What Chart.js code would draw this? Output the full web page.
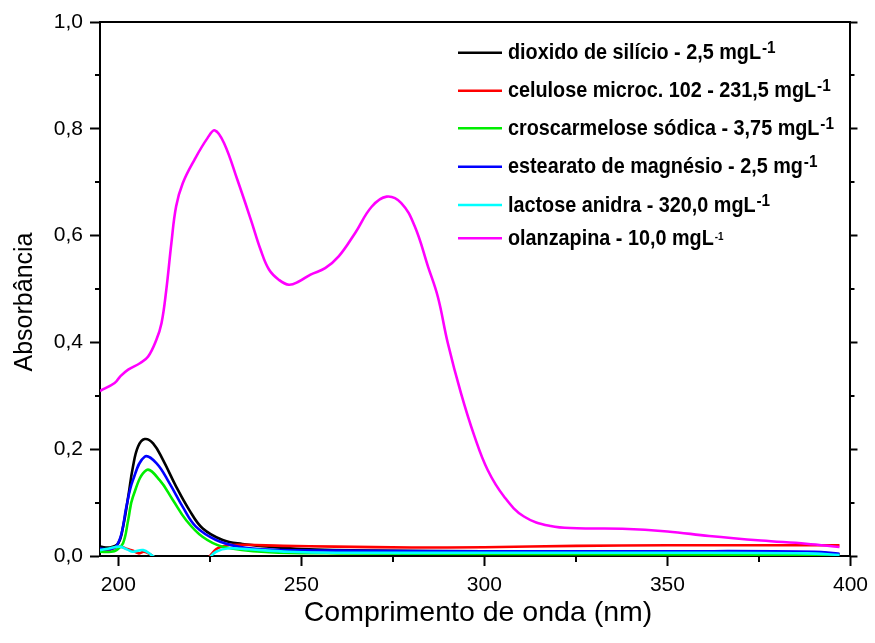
<!DOCTYPE html>
<html>
<head>
<meta charset="utf-8">
<script src="https://cdn.jsdelivr.net/npm/chart.js@4"></script>
<style>
  html, body { margin: 0; padding: 0; background: #fff; }
</style>
</head>
<body>
<canvas id="chart" width="875" height="643"></canvas>
<script>
// Spectra: wavelength (nm) and absorbance per sample
const wlSilica = [195, 197.7, 200, 201.3, 202.7, 204, 205.4, 207.2, 209.5, 212.2, 215.8, 219.4, 223, 228.5, 233.9, 241.2, 250, 270, 300, 350, 390, 397];
const absSilica = [0.0175, 0.016, 0.024, 0.055, 0.111, 0.167, 0.205, 0.219, 0.211, 0.18, 0.13, 0.086, 0.052, 0.030, 0.0225, 0.0175, 0.013, 0.01, 0.009, 0.008, 0.007, 0.003];

const wlCelulose = [195, 197.5, 200.4, 202.5, 204, 205.5, 207, 208.5, 210, 213, 220, 223, 224.5, 226.7, 228.5, 230.3, 235, 245, 259.2, 280, 300, 325, 350, 375, 397];
const absCelulose = [0.008, 0.011, 0.0175, 0.013, 0.010, 0.005, 0.008, 0.004, -0.004, -0.03, -0.03, -0.012, -0.004, 0.0125, 0.018, 0.0206, 0.021, 0.019, 0.0175, 0.016, 0.0165, 0.019, 0.020, 0.020, 0.020];

const wlCroscar = [195, 198, 199.5, 201.3, 202.7, 204, 207.7, 211.3, 214.9, 218.5, 223, 228.5, 241.2, 260, 300, 350, 390, 397];
const absCroscar = [0.008, 0.008, 0.011, 0.024, 0.0675, 0.111, 0.161, 0.142, 0.105, 0.0675, 0.036, 0.0175, 0.007, 0.005, 0.004, 0.003, 0.002, 0.001];

const wlEstearato = [195, 198, 199.5, 200.9, 202.2, 204, 207.2, 210.4, 214, 217.6, 221.2, 226.7, 233, 241.2, 260, 300, 350, 390, 397];
const absEstearato = [0.014, 0.013, 0.019, 0.0425, 0.092, 0.142, 0.186, 0.174, 0.136, 0.092, 0.055, 0.030, 0.0175, 0.012, 0.01, 0.009, 0.009, 0.008, 0.004];

const wlLactose = [195, 197.5, 200.4, 202.5, 204, 206.8, 209, 210.5, 213, 220, 223.5, 224.4, 226.7, 230.3, 235.7, 246.6, 259.2, 300, 350, 388, 397];
const absLactose = [0.011, 0.014, 0.0175, 0.012, 0.008, 0.011, 0.002, -0.006, -0.03, -0.03, -0.012, -0.007, 0.008, 0.0144, 0.0125, 0.008, 0.006, 0.006, 0.006, 0.005, 0.002];

const wlOlanz = [195, 199, 200.5, 202.7, 205.9, 208.1, 210.4, 211.8, 213.1, 214.5, 215.8, 217.6, 220.8, 224.4, 226.4, 228.9, 232.5, 236.2, 238.9, 241.2, 243.9, 246.6, 249.3, 252.5, 256.5, 260.2, 264.7, 269.2, 273.3, 277.3, 281, 284.6, 287.3, 290, 293.6, 297.3, 300.9, 305.4, 310.8, 318.1, 325.3, 337.7, 350, 361.4, 375.6, 387.9, 397];
const absOlanz = [0.309, 0.324, 0.336, 0.349, 0.361, 0.373, 0.405, 0.436, 0.498, 0.586, 0.655, 0.698, 0.742, 0.783, 0.797, 0.773, 0.705, 0.63, 0.573, 0.536, 0.517, 0.508, 0.514, 0.527, 0.539, 0.561, 0.605, 0.654, 0.673, 0.661, 0.617, 0.542, 0.485, 0.399, 0.305, 0.224, 0.161, 0.111, 0.074, 0.056, 0.052, 0.051, 0.046, 0.0375, 0.029, 0.023, 0.017];

// Legend labels (main text + superscript)
const legendText = [
  'dioxido de silício - 2,5 mgL',
  'celulose microc. 102 - 231,5 mgL',
  'croscarmelose sódica - 3,75 mgL',
  'estearato de magnésio - 2,5 mg',
  'lactose anidra - 320,0 mgL',
  'olanzapina - 10,0 mgL'
];
const legendSup = ['-1', '-1', '-1', '-1', '-1', '-1'];

// Axis ticks
const xMinorTicks = [225, 275, 325, 375];
const yMinorTicks = [0.1, 0.3, 0.5, 0.7, 0.9];

const colors = ['#000000', '#ff0000', '#00ee00', '#0000ff', '#00ffff', '#ff00ff'];
const series = [
  [wlSilica, absSilica],
  [wlCelulose, absCelulose],
  [wlCroscar, absCroscar],
  [wlEstearato, absEstearato],
  [wlLactose, absLactose],
  [wlOlanz, absOlanz]
];

const FONT = "'Liberation Sans', Arial, sans-serif";

function toPoints(wl, ab) {
  return wl.map((x, i) => ({ x, y: ab[i] }));
}

// small ticks between the labelled ones
const minorTicks = {
  id: 'minorTicks',
  afterDraw(chart) {
    const { ctx, chartArea: a, scales: { x, y } } = chart;
    ctx.save();
    ctx.strokeStyle = '#000';
    ctx.lineWidth = 2;
    ctx.beginPath();
    xMinorTicks.forEach(v => {
      const px = Math.round(x.getPixelForValue(v));
      ctx.moveTo(px, a.bottom);
      ctx.lineTo(px, a.bottom + 6);
    });
    yMinorTicks.forEach(v => {
      const py = Math.round(y.getPixelForValue(v));
      ctx.moveTo(a.left - 5, py);
      ctx.lineTo(a.left, py);
      ctx.moveTo(a.right, py);
      ctx.lineTo(a.right + 4, py);
    });
    ctx.stroke();
    ctx.restore();
  }
};

// axis titles
const axisTitles = {
  id: 'axisTitles',
  afterDraw(chart) {
    const { ctx } = chart;
    ctx.save();
    ctx.fillStyle = '#000';
    ctx.textAlign = 'center';
    ctx.textBaseline = 'middle';
    ctx.font = '28.5px ' + FONT;
    ctx.fillText('Comprimento de onda (nm)', 478, 613);
    ctx.translate(25, 302);
    ctx.rotate(-Math.PI / 2);
    ctx.font = '25px ' + FONT;
    ctx.fillText('Absorbância', 0, 0);
    ctx.restore();
  }
};

// legend box in the upper right, with superscripts
const legendBox = {
  id: 'legendBox',
  afterDraw(chart) {
    const { ctx } = chart;
    const rowY = [52.7, 90.7, 128.3, 166.7, 205, 238.3];
    const sx = 0.9;
    ctx.save();
    legendText.forEach((txt, i) => {
      const y = rowY[i];
      ctx.strokeStyle = colors[i];
      ctx.lineWidth = 2.5;
      ctx.beginPath();
      ctx.moveTo(458, y);
      ctx.lineTo(502, y);
      ctx.stroke();

      ctx.save();
      ctx.translate(508, y + 6.6);
      ctx.scale(sx, 1);
      ctx.fillStyle = '#000';
      ctx.textAlign = 'left';
      ctx.textBaseline = 'alphabetic';
      ctx.font = 'bold 22px ' + FONT;
      ctx.fillText(txt, 0, 0);
      const w = ctx.measureText(txt).width;
      if (i === legendText.length - 1) {
        ctx.font = 'bold 11px ' + FONT;
        ctx.fillText(legendSup[i], w + 1, -4.5);
      } else {
        ctx.font = 'bold 17px ' + FONT;
        ctx.fillText(legendSup[i], w + 1, -6);
      }
      ctx.restore();
    });
    ctx.restore();
  }
};

const tickFont = { family: FONT, size: 21 };

new Chart(document.getElementById('chart'), {
  type: 'line',
  data: {
    datasets: series.map((s, i) => ({
      label: legendText[i],
      data: toPoints(s[0], s[1]),
      borderColor: colors[i],
      borderWidth: 2.6,
      pointRadius: 0,
      fill: false,
      tension: 0.4,
      order: series.length - 1 - i
    }))
  },
  options: {
    responsive: false,
    animation: false,
    layout: { padding: 0 },
    plugins: {
      legend: { display: false },
      tooltip: { enabled: false }
    },
    scales: {
      x: {
        type: 'linear',
        position: 'bottom',
        min: 195,
        max: 400,
        ticks: { stepSize: 50, includeBounds: false, color: '#000', font: tickFont, padding: 7, maxRotation: 0 },
        grid: { drawOnChartArea: false, tickLength: 10, tickColor: '#000', tickWidth: 2 },
        border: { color: '#000', width: 2 },
        afterFit: s => { s.height = 87; }
      },
      x2: {
        type: 'linear',
        position: 'top',
        min: 195,
        max: 400,
        ticks: { display: false },
        grid: { drawOnChartArea: false, drawTicks: false },
        border: { color: '#000', width: 2 },
        afterFit: s => { s.height = 22; }
      },
      y: {
        type: 'linear',
        position: 'left',
        min: 0,
        max: 1,
        ticks: {
          stepSize: 0.2,
          color: '#000',
          font: tickFont,
          padding: 7,
          callback: v => v.toFixed(1).replace('.', ',')
        },
        grid: { drawOnChartArea: false, tickLength: 10, tickColor: '#000', tickWidth: 2 },
        border: { color: '#000', width: 2 },
        afterFit: s => { s.width = 100; }
      },
      y2: {
        type: 'linear',
        position: 'right',
        min: 0,
        max: 1,
        ticks: { display: false, stepSize: 0.2 },
        grid: { drawOnChartArea: false, tickLength: 7, tickColor: '#000', tickWidth: 2 },
        border: { color: '#000', width: 2 },
        afterFit: s => { s.width = 20; }
      }
    }
  },
  plugins: [minorTicks, axisTitles, legendBox]
});
</script>
</body>
</html>
